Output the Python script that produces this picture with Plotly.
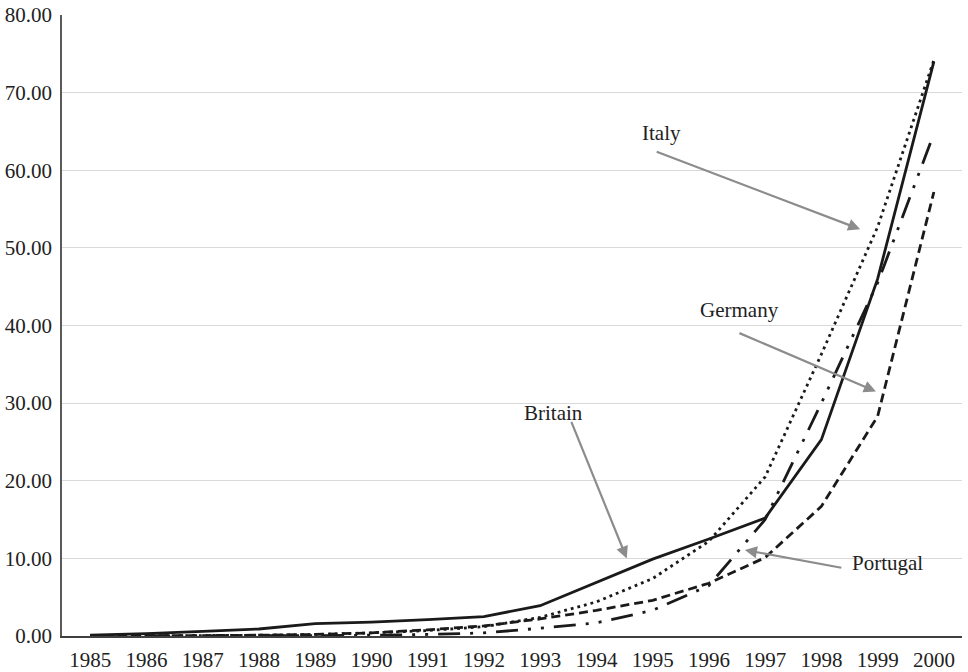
import plotly.graph_objects as go

years = [str(y) for y in range(1985, 2001)]
britain = [0.1, 0.3, 0.6, 0.9, 1.6, 1.8, 2.1, 2.5, 3.9, 6.9, 9.9, 12.5, 15.2, 25.3, 46.0, 74.0]
italy = [0.0, 0.0, 0.05, 0.1, 0.2, 0.4, 0.7, 1.2, 2.4, 4.4, 7.4, 12.2, 20.5, 36.3, 52.7, 74.2]
germany = [0.0, 0.0, 0.05, 0.1, 0.2, 0.4, 0.8, 1.3, 2.2, 3.3, 4.6, 6.8, 10.1, 16.7, 28.3, 57.2]
portugal = [0.0, 0.0, 0.0, 0.0, 0.05, 0.1, 0.2, 0.4, 1.0, 1.7, 3.3, 6.5, 15.0, 30.0, 45.5, 64.7]
y_ticks = [0, 10, 20, 30, 40, 50, 60, 70, 80]

FONT = "Liberation Serif, Times New Roman, serif"
LINE = "#1a1a1a"
ARROW = "#8c8c8c"
FS = 21
LW = 2.8

fig = go.Figure()
fig.add_trace(go.Scatter(x=years, y=portugal, mode="lines", name="Portugal",
                         line=dict(color=LINE, width=LW, dash="22px,10px,3px,10px,3px,10px")))
fig.add_trace(go.Scatter(x=years, y=germany, mode="lines", name="Germany",
                         line=dict(color=LINE, width=LW, dash="9px,5px")))
fig.add_trace(go.Scatter(x=years, y=italy, mode="lines", name="Italy",
                         line=dict(color=LINE, width=LW, dash="2.8px,4px")))
fig.add_trace(go.Scatter(x=years, y=britain, mode="lines", name="Britain",
                         line=dict(color=LINE, width=LW)))

# labels (text) and arrows (separate)
labels = [("Italy", 10.15, 64.8), ("Germany", 11.55, 42.0),
          ("Britain", 8.23, 28.7), ("Portugal", 14.18, 9.4)]
for txt, xi, yv in labels:
    fig.add_annotation(x=xi, y=yv, xref="x", yref="y", text=txt, showarrow=False,
                       font=dict(family=FONT, size=FS, color="#222222"))

arrows = [(13.69, 52.4, -205, -78), (13.97, 31.5, -138, -59),
          (9.54, 10.0, -56, -138), (11.64, 11.08, 98, 18)]
for xi, yv, ax, ay in arrows:
    fig.add_annotation(x=xi, y=yv, xref="x", yref="y", text="", showarrow=True,
                       ax=ax, ay=ay, axref="pixel", ayref="pixel",
                       arrowhead=2, arrowsize=1.1, arrowwidth=2.2, arrowcolor=ARROW)

fig.update_layout(
    width=968, height=672,
    margin=dict(l=62, r=6, t=15, b=36),
    paper_bgcolor="white", plot_bgcolor="white",
    showlegend=False,
    font=dict(family=FONT, size=FS, color="#222222"),
)
fig.update_xaxes(type="category", categoryorder="array", categoryarray=years,
                 range=[-0.5, 15.5], showgrid=False, showline=True,
                 linecolor="#404040", linewidth=1.5, ticks="", zeroline=False,
                 automargin=False,
                 tickfont=dict(family=FONT, size=FS, color="#222222"),
                 ticklabelstandoff=4)
fig.update_yaxes(range=[0, 80], tickvals=y_ticks,
                 ticktext=[f"{v:.2f}" for v in y_ticks],
                 showgrid=True, gridcolor="#d9d9d9", gridwidth=1.3,
                 showline=True, linecolor="#595959", linewidth=1.5,
                 zeroline=False, ticks="", automargin=False,
                 tickfont=dict(family=FONT, size=FS, color="#222222"),
                 ticklabelstandoff=4)

fig.write_html("out.html", config={"displayModeBar": False},
               post_script="document.body.style.margin='0px';document.body.style.overflow='hidden';")
